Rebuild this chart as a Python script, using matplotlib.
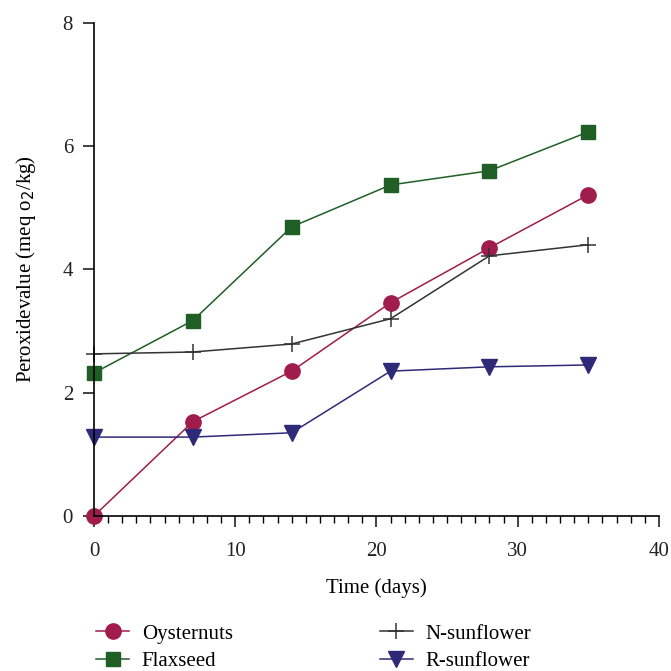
import matplotlib
matplotlib.use('Agg')
import matplotlib.pyplot as plt
from matplotlib.ticker import MultipleLocator

plt.rcParams['font.family'] = ['Liberation Serif', 'DejaVu Serif']

# data
days = [0, 7, 14, 21, 28, 35]
oysternuts = [0.0, 1.53, 2.35, 3.46, 4.35, 5.21]
flaxseed = [2.32, 3.17, 4.69, 5.37, 5.60, 6.23]
n_sunflower = [2.63, 2.66, 2.79, 3.20, 4.22, 4.40]
r_sunflower = [1.28, 1.28, 1.35, 2.35, 2.42, 2.45]

fig = plt.figure(figsize=(6.71, 6.71), dpi=100)
ax = fig.add_axes([0.140, 0.231, 0.842, 0.735])

ax.plot(days, oysternuts, color='#A01C4A', marker='o', markersize=11, lw=1.1, label='Oysternuts')
ax.plot(days, flaxseed, color='#1F5F26', marker='s', markersize=10, lw=1.1, label='Flaxseed')
ax.plot(days, n_sunflower, color='#333333', marker='+', markersize=12, mew=1.1, lw=1.1, label='N-sunflower')
ax.plot(days, r_sunflower, color='#2E2A78', marker='v', markersize=11, lw=1.1, label='R-sunflower')

ax.set_xlim(0, 40)
ax.set_ylim(0, 8)
ax.set_xticks([0, 10, 20, 30, 40])
ax.xaxis.set_minor_locator(MultipleLocator(1))
ax.set_yticks([0, 2, 4, 6, 8])
for s in ['top', 'right']:
    ax.spines[s].set_visible(False)
for s in ['left', 'bottom']:
    ax.spines[s].set_linewidth(1.2)
ax.tick_params(which='major', direction='out', length=8, width=1.2, labelsize=15,
               colors='#222222')
ax.tick_params(axis='x', which='major', pad=11)
ax.tick_params(axis='y', pad=7)
ax.tick_params(which='minor', direction='out', length=5, width=1.0)
ax.set_xlabel('Time (days)', fontsize=15, labelpad=12)
ax.set_ylabel('Peroxidevalue (meq o$_2$/kg)', fontsize=15, labelpad=18)
for sp in ax.spines.values():
    sp.set_clip_on(False)
for ln in ax.lines:
    ln.set_clip_on(False)

fig.legend(loc='lower left', bbox_to_anchor=(0.115, -0.028), ncol=2, frameon=False,
           fontsize=15, columnspacing=7.05, handlelength=1.6, handletextpad=0.6,
           labelspacing=0.38)

fig.savefig('out.png', dpi=100)
